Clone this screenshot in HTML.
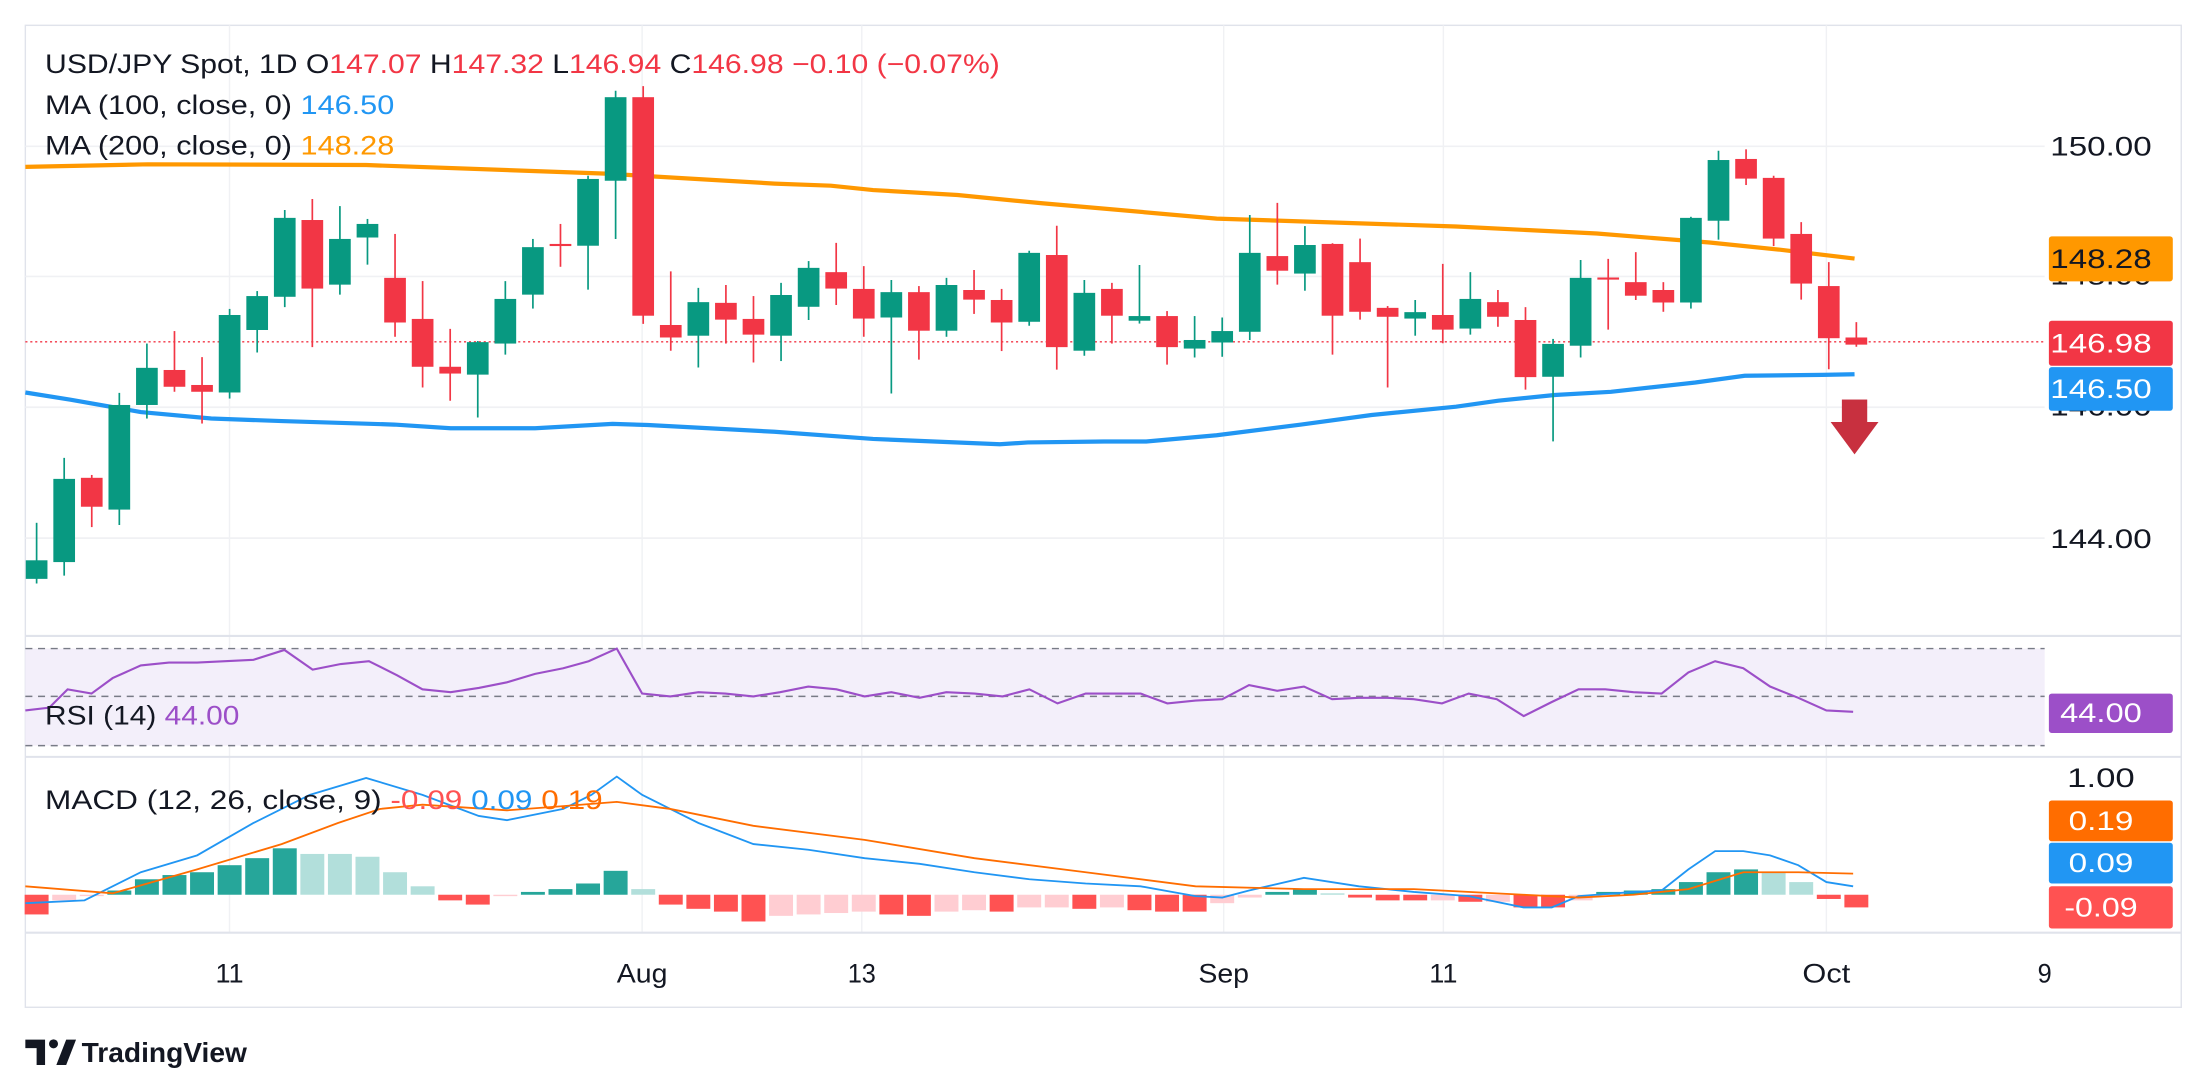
<!DOCTYPE html>
<html><head><meta charset="utf-8"><style>
html,body{margin:0;padding:0;background:#fff;}
svg{display:block;font-family:"Liberation Sans",sans-serif;}
</style></head><body>
<svg id="s" width="2208" height="1072" viewBox="0 0 1568 762" preserveAspectRatio="none" xmlns="http://www.w3.org/2000/svg"></svg>
<script>
var S=document.getElementById('s'),h='';
function Y(z){return 56.9+z/3.94;}
var G='#089981',R='#f23645';
h+='<rect x="18" y="18" width="1531" height="698" fill="none" stroke="#e0e3eb" stroke-width="1"/>';
[163,456,612,869,1025,1297].forEach(function(x){h+='<line x1="'+x+'" y1="18" x2="'+x+'" y2="663" stroke="#f0f1f4" stroke-width="1"/>';});
[104,196.5,289.5,382.5].forEach(function(y){h+='<line x1="18" y1="'+y+'" x2="1452" y2="'+y+'" stroke="#f0f1f4" stroke-width="1.2"/>';});
[452,538,663].forEach(function(y){h+='<line x1="18" y1="'+y+'" x2="1549" y2="'+y+'" stroke="#e0e3eb" stroke-width="1.5"/>';});
h+='<line x1="18" y1="243" x2="1452" y2="243" stroke="'+R+'" stroke-width="1" stroke-dasharray="1.5,2"/>';
function pl(pts,off){return pts.map(function(p){return (p[0]/2+off).toFixed(1)+','+Y(p[1]).toFixed(1);}).join(' ');}
var o1=[[36,243],[210,236],[520,238],[860,262],[1100,290],[1180,296],[1240,308],[1360,322],[1480,345],[1568,360]];
var o2=[[160,388],[500,410],[700,430],[860,455],[960,475],[1066,500]];
h+='<polyline fill="none" stroke="#ff9800" stroke-width="3" points="'+pl(o1,0)+' '+pl(o2,784)+'"/>';
var b1=[[36,875],[100,895],[200,930],[300,948],[400,955],[560,965],[640,975],[760,975],[870,963],[920,966],[1100,985],[1240,1005],[1420,1020],[1460,1015],[1568,1012]];
var b2=[[60,1012],[160,995],[280,965],[380,938],[500,915],[560,898],[640,882],[720,873],[840,847],[910,828],[1020,826],[1066,824]];
h+='<polyline fill="none" stroke="#2196f3" stroke-width="3" points="'+pl(b1,0)+' '+pl(b2,784)+'"/>';
var C=[['G',1345,1397,1240,1410],['G',1117,1350,1058,1388],['R',1114,1195,1106,1252],['G',910,1203,876,1246],['G',806,910,738,948],['R',812,859,703,873],['R',854,873,776,962],['G',658,875,641,892],['G',605,700,591,763],['G',386,607,364,636],['R',392,584,333,748],['G',445,573,353,601],['G',403,441,389,517],['R',554,679,431,719],['R',669,803,563,861],['R',803,822,697,898],['G',734,825,731,945],['G',613,738,563,769],['G',468,601,445,640],['R',459,464,403,523],['G',277,464,268,587],['G',48,282,30,445],['R',48,660,17,683],['R',686,721,536,758],['G',622,716,582,805],['R',624,671,574,738],['R',669,713,605,791],['G',602,716,568,787],['G',526,635,507,672],['R',538,584,456,630],['R',585,668,521,719],['G',594,665,560,878],['R',594,702,577,783],['G',574,702,554,719],['R',588,615,532,655],['R',616,679,585,759],['G',484,677,478,688],['R',490,748,408,811],['G',596,758,560,772],
['R',585,660,568,738],['G',661,674,518,682],['R',661,748,647,797],['G',728,752,661,777],['G',703,735,665,775],['G',484,705,378,728],['R',493,534,344,573],['G',462,542,409,590],['R',459,660,457,769],['R',510,649,444,671],['R',638,663,633,861],['G',650,668,616,716],['R',658,699,515,737],['G',613,696,538,713],['R',622,663,588,691],['R',672,832,636,867],['G',739,831,725,1012],['G',554,744,504,777],['R',553,558,501,699],['R',566,604,482,616],['R',588,623,566,649],['G',386,623,383,640],['G',224,394,198,447],['R',221,276,194,294],['R',274,444,268,465],['R',431,570,398,615],['R',577,723,510,810],['R',721,741,678,747]];
function cx(i){return 26+i*19.58;}
C.forEach(function(c,i){var x=cx(i),col=c[0]=='G'?G:R;
h+='<line x1="'+x+'" y1="'+Y(c[3])+'" x2="'+x+'" y2="'+Y(c[4])+'" stroke="'+col+'" stroke-width="1.2"/>';
var t=Y(c[1]),b=Y(c[2]);if(b-t<1.5)b=t+1.5;
h+='<rect x="'+(x-7.7)+'" y="'+t+'" width="15.4" height="'+(b-t)+'" fill="'+col+'"/>';});
h+='<rect x="1308" y="284" width="18" height="17" fill="#c8303f"/><polygon points="1300,300 1334,300 1317,323" fill="#c8303f"/>';
h+='<rect x="18" y="461" width="1434" height="69" fill="#f3effa"/>';
[461,495,530].forEach(function(y){h+='<line x1="18" y1="'+y+'" x2="1452" y2="'+y+'" stroke="#787b86" stroke-width="1" stroke-dasharray="5,4"/>';});
var rsi=[[18,505],[35,503],[48,490],[65,493],[80,482],[100,473],[120,471],[140,471],[160,470],[180,469],[202,462],[222,476],[242,472],[262,470],[282,480],[300,490],[320,492],[340,489],[360,485],[380,479],[400,475],[418,470],[438,461],[456,493],[476,495],[496,492],[515,493],[535,495],[554,492],[574,488],[594,490],[614,495],[633,492],[653,496],[672,492],[692,493],[712,495],[731,490],[751,500],[771,493],[790,493],[810,493],[829,500],[849,498],[868,497],[887,487],[907,491],[926,488],[946,497],[965,496],[985,496],[1004,497],[1024,500],[1043,493],[1063,497],[1082,509],[1102,499],[1121,490],[1140,490],[1160,492],[1180,493],[1199,478],[1218,470],[1238,475],[1257,488],[1277,496],[1297,505],[1316,506]];
h+='<polyline fill="none" stroke="#9c4fc8" stroke-width="1.5" points="'+rsi.map(function(p){return p.join(',');}).join(' ')+'"/>';
var hist=[[650,'r'],[640,'l'],[637,'l'],[633,'t'],[625,'t'],[622,'t'],[620,'t'],[615,'t'],[610,'t'],[603,'t'],[607,'a'],[607,'a'],[609,'a'],[620,'a'],[630,'a'],[640,'r'],[643,'r'],[637,'l'],[634,'t'],[632,'t'],[628,'t'],[619,'t'],[632,'a'],[643,'r'],[646,'r'],[648,'r'],[655,'r'],[651,'l'],[650,'l'],[649,'l'],[648,'l'],[650,'r'],[651,'r'],[648,'l'],[647,'l'],[648,'r'],[645,'l'],[645,'l'],[646,'r'],[645,'l'],[647,'r'],[648,'r'],[648,'r'],[642,'l'],[638,'l'],[634,'t'],[632,'t'],[635,'a'],[638,'r'],[640,'r'],[640,'r'],[640,'l'],[641,'r'],[641,'l'],[645,'r'],[645,'r'],[640,'l'],[634,'t'],[633,'t'],[632,'t'],[627,'t'],[620,'t'],[618,'t'],[620,'a'],[627,'a'],[639,'r'],[645,'r']];
var hc={r:'#ff5252',l:'#ffcdd2',t:'#26a69a',a:'#b2dfdb'};
hist.forEach(function(v,i){var x=cx(i),z=636,t=Math.min(v[0],z),b=Math.max(v[0],z);if(b-t<1)b=t+1;
h+='<rect x="'+(x-8.5)+'" y="'+t+'" width="17" height="'+(b-t)+'" fill="'+hc[v[1]]+'"/>';});
var mb=[[18,642],[60,640],[100,620],[140,608],[180,585],[220,565],[260,553],[300,565],[340,580],[360,583],[400,575],[420,565],[438,552],[456,565],[476,575],[496,585],[535,600],[574,604],[614,610],[653,614],[692,620],[731,625],[771,628],[810,630],[849,637],[868,638],[887,633],[926,624],[965,630],[1004,634],[1043,637],[1082,645],[1102,645],[1121,637],[1160,634],[1180,633],[1199,618],[1218,605],[1238,605],[1257,608],[1277,615],[1297,627],[1316,630]];
var ms=[[18,630],[80,635],[140,618],[200,600],[240,585],[270,575],[300,572],[360,576],[400,573],[438,570],[476,575],[535,587],[614,597],[692,610],[771,620],[849,630],[926,632],[1004,632],[1082,636],[1121,638],[1160,636],[1199,632],[1238,620],[1277,620],[1316,621]];
h+='<polyline fill="none" stroke="#2196f3" stroke-width="1.3" points="'+mb.map(function(p){return p.join(',');}).join(' ')+'"/>';
h+='<polyline fill="none" stroke="#ff6d00" stroke-width="1.3" points="'+ms.map(function(p){return p.join(',');}).join(' ')+'"/>';
function T(x,y,s,col,sz,anc,tl){return '<text x="'+x+'" y="'+y+'" fill="'+col+'" font-size="'+sz+'" text-anchor="'+(anc||'start')+'"'+(tl?' textLength="'+tl+'" lengthAdjust="spacingAndGlyphs"':'')+' dominant-baseline="central">'+s+'</text>';}
[[104,'150.00'],[196,'148.00'],[289,'146.00'],[383,'144.00']].forEach(function(a){h+=T(1492,a[0],a[1],'#131722',19,'middle',72);});
h+=T(1492,553,'1.00','#131722',19,'middle',48);
function B(y1,y2,col,txt,tc,tl){h+='<rect x="1455" y="'+y1+'" width="88" height="'+(y2-y1)+'" rx="2" fill="'+col+'"/>';h+=T(1492,(y1+y2)/2,txt,tc,19,'middle',tl);}
B(168,200,'#ff9800','148.28','#131722',72);B(228,260,'#f23645','146.98','#fff',72);B(261,292,'#2196f3','146.50','#fff',72);
B(493,521,'#9c4fc8','44.00','#fff',58);B(569,598,'#ff6d00','0.19','#fff',46);B(599,628,'#2196f3','0.09','#fff',46);B(630,660,'#ff5252','-0.09','#fff',52);
[[163,'11',20],[456,'Aug',36],[612,'13',20],[869,'Sep',36],[1025,'11',20],[1297,'Oct',34],[1452,'9',10]].forEach(function(a){h+=T(a[0],692,a[1],'#131722',19,'middle',a[2]);});
h+='<text x="32" y="52" font-size="19" fill="#131722" textLength="678" lengthAdjust="spacingAndGlyphs">USD/JPY Spot, 1D  O<tspan fill="'+R+'">147.07</tspan>  H<tspan fill="'+R+'">147.32</tspan>  L<tspan fill="'+R+'">146.94</tspan>  C<tspan fill="'+R+'">146.98</tspan>  <tspan fill="'+R+'">−0.10 (−0.07%)</tspan></text>';
h+='<text x="32" y="81" font-size="19" fill="#131722" textLength="248" lengthAdjust="spacingAndGlyphs">MA (100, close, 0)  <tspan fill="#2196f3">146.50</tspan></text>';
h+='<text x="32" y="110" font-size="19" fill="#131722" textLength="248" lengthAdjust="spacingAndGlyphs">MA (200, close, 0)  <tspan fill="#ff9800">148.28</tspan></text>';
h+='<text x="32" y="515" font-size="19" fill="#131722" textLength="138" lengthAdjust="spacingAndGlyphs">RSI (14)  <tspan fill="#9c4fc8">44.00</tspan></text>';
h+='<text x="32" y="575" font-size="19" fill="#131722" textLength="396" lengthAdjust="spacingAndGlyphs">MACD (12, 26, close, 9)  <tspan fill="#ff5252">-0.09</tspan>  <tspan fill="#2196f3">0.09</tspan>  <tspan fill="#ff6d00">0.19</tspan></text>';
h+='<path d="M18 739 h14 v18 h-6 v-12 h-8z" fill="#131722"/><circle cx="38" cy="742" r="3.2" fill="#131722"/><path d="M40 757 l7 -18 h7 l-7 18z" fill="#131722"/>';
h+='<text x="58" y="755" font-size="20" fill="#131722" font-weight="bold">TradingView</text>';
S.innerHTML=h;
</script>
</body></html>
